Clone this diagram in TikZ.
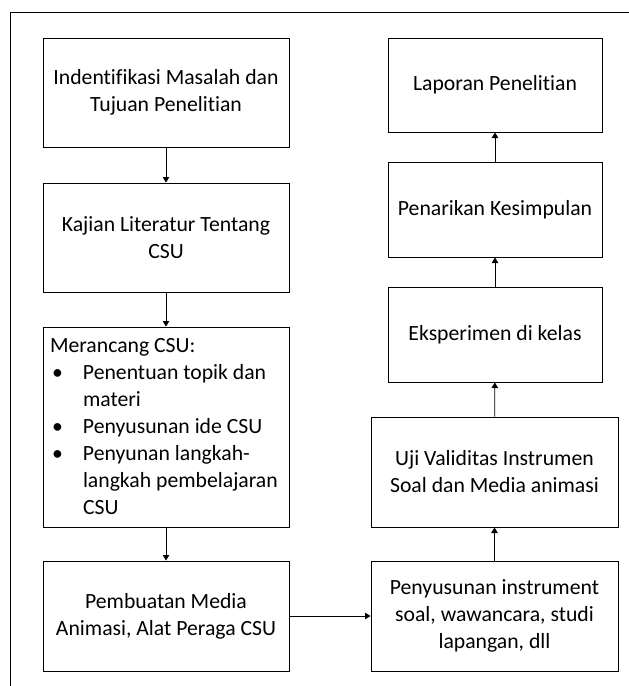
\documentclass[tikz,border=0pt]{standalone}
\usepackage{fontspec}
\setmainfont{Carlito}[RawFeature={-liga;-clig;-dlig}]
\usepackage{tikz}
\usetikzlibrary{arrows.meta}
\tikzset{every edge/.style={draw, line width=0.8pt, -{Triangle[width=6.5pt,length=5.5pt]}}}
\tikzset{stage/.style={draw, line width=1pt, align=center, inner sep=4pt,
  font=\fontsize{21.7}{27}\selectfont}}
\newcommand{\bulletline}[1]{\hspace*{2pt}\makebox[31pt][l]{\textbullet}#1}
\newcommand{\hangline}[1]{\hspace*{33pt}#1}

\begin{document}
\begin{tikzpicture}[x=1pt,y=-1pt]
  \useasboundingbox (0,0) rectangle (629,686);
  \draw[line width=1pt] (10,686) -- (10,12) -- (629,12);

  % left column, top to bottom
  \node[stage, minimum width=246pt, minimum height=109pt] at (166, 92.5) (ident) {Indentifikasi Masalah dan\\Tujuan Penelitian};
  \node[stage, minimum width=246pt, minimum height=109pt] at (166, 237.5) (kajian) {Kajian Literatur Tentang\\CSU};
  \node[stage, minimum width=246pt, minimum height=200pt, align=flush left, text width=232pt, inner xsep=7pt] at (166, 427) (rancang)
    {Merancang CSU:\\
     \bulletline{Penentuan topik dan}\\
     \hangline{materi}\\
     \bulletline{Penyusunan ide CSU}\\
     \bulletline{Penyunan langkah-}\\
     \hangline{langkah pembelajaran}\\
     \hangline{CSU}};
  \node[stage, minimum width=246pt, minimum height=110pt] at (166, 616) (media) {Pembuatan Media\\Animasi, Alat Peraga CSU};

  % right column, bottom to top
  \node[stage, minimum width=247pt, minimum height=110pt] at (494.5, 616) (instrumen) {Penyusunan instrument\\soal, wawancara, studi\\lapangan, dll};
  \node[stage, minimum width=247pt, minimum height=110pt] at (494.5, 472) (uji) {Uji Validitas Instrumen\\Soal dan Media animasi};
  \node[stage, minimum width=214pt, minimum height=95pt] at (495, 334.5) (eksperimen) {Eksperimen di kelas};
  \node[stage, minimum width=214pt, minimum height=95pt] at (495, 209.5) (simpulan) {Penarikan Kesimpulan};
  \node[stage, minimum width=214pt, minimum height=94pt] at (495, 85) (laporan) {Laporan Penelitian};

  \draw (ident) edge (kajian);
  \draw (kajian) edge (rancang);
  \draw (rancang) edge (media);
  \draw (media) edge (instrumen);
  \draw (instrumen) edge (uji);
  \draw (uji) edge (eksperimen);
  \draw (eksperimen) edge (simpulan);
  \draw (simpulan) edge (laporan);
\end{tikzpicture}
\end{document}
